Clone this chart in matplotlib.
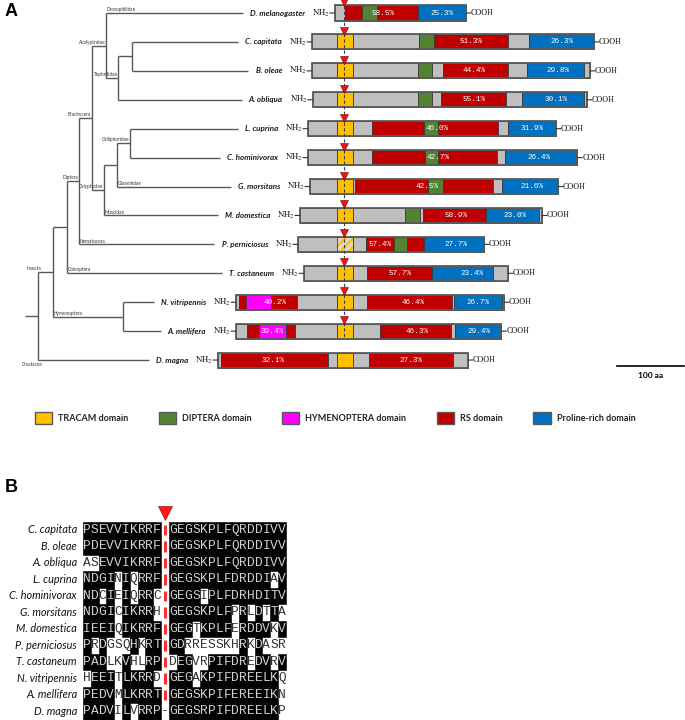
import matplotlib
matplotlib.use('Agg')
import matplotlib.pyplot as plt
from matplotlib.patches import Rectangle, Patch
import numpy as np

plt.rcParams['mathtext.fontset'] = 'stix'
plt.rcParams['hatch.linewidth'] = 1.6

# ------------------------------------------------------------------ data
species = ['D. melanogaster', 'C. capitata', 'B. oleae', 'A. obliqua', 'L. cuprina',
           'C. hominivorax', 'G. morsitans', 'M. domestica', 'P. perniciosus',
           'T. castaneum', 'N. vitripennis', 'A. mellifera', 'D. magna']

# domain boundaries in aa (0 = cleavage site)
segment_edges = [
    [-14, 2, 27, 50, 111, 183],
    [-48, -11, 13, 112, 135, 246, 277, 375],
    [-48, -11, 13, 111, 132, 149, 246, 275, 360, 369],
    [-47, -11, 13, 111, 132, 146, 243, 267, 360, 364],
    [-54, -11, 13, 42, 120, 141, 231, 246, 318],
    [-54, -11, 13, 42, 122, 141, 230, 242, 350],
    [-51, -11, 13, 17, 126, 149, 224, 237, 321],
    [-66, -11, 13, 92, 114, 119, 213, 293, 297],
    [-69, -11, 13, 33, 75, 95, 120, 210],
    [-60, -11, 13, 35, 132, 224, 246],
    [-162, -158, -147, -110, -71, -11, 13, 35, 162, 165, 237, 240],
    [-162, -146, -128, -87, -74, -11, 13, 54, 161, 167, 236],
    [-189, -185, -24, -11, 13, 38, 164, 186],
]
# O other, T TRACAM, H TRACAM (putative, hatched), G DIPTERA, M HYMENOPTERA, R RS, B proline-rich
segment_types = ['ORGRB', 'OTOGROB', 'OTOGOROBO', 'OTOGOROBO', 'OTORGROB', 'OTORGROB',
                 'OTORGROB', 'OTOGORBO', 'OHORGRB', 'OTORBO', 'ORMROTOROBO',
                 'ORMROTOROB', 'OROTORO']

pct_text = [['58.5%', '25.3%'], ['51.3%', '26.3%'], ['44.4%', '29.8%'], ['55.1%', '30.1%'],
            ['46.0%', '31.9%'], ['42.7%', '26.4%'], ['42.5%', '21.6%'], ['58.9%', '23.0%'],
            ['57.4%', '27.7%'], ['57.7%', '23.4%'], ['40.2%', '46.4%', '26.7%'],
            ['39.4%', '46.3%', '29.4%'], ['32.1%', '27.3%']]
pct_pos = [[58, 147], [190, 327], [195, 321], [195, 318], [140, 282], [141, 293],
           [125, 282], [168, 257], [54, 168], [84, 192], [-103, 104, 201],
           [-108, 110, 203], [-107, 101]]

has_site = [True] * 12 + [False]
scale_len = 100

# cladogram: (node depth, clade label, label anchor, children); leaves = species index
tree = (38, None, None, [
    (53, 'Insecta', 'mid', [
        (67, None, None, [
            (79, 'Diptera', 'end', [
                (92, 'Brachycera', 'end', [
                    (106, 'Acalyptratae', 'end', [
                        0,
                        (118, 'Tephritidae', 'end', [(132, None, None, [1, 2]), 3])]),
                    (104, 'Calyptratae', 'end', [
                        (117, None, None, [(130, 'Calliphoridae', 'end', [4, 5]), 6]),
                        7])]),
                8]),
            9]),
        (123, 'Hymenoptera', 'start', [10, 11])]),
    12])
root_stem = 25
leaf_clade = {0: 'Drosophilidae', 6: 'Glossinidae', 7: 'Muscidae', 8: 'Nematocera',
              9: 'Coleoptera', 12: 'Crustacea'}

legend_labels = ['TRACAM domain', 'DIPTERA domain', 'HYMENOPTERA domain', 'RS domain',
                 'Proline-rich domain']

# panel B alignment
seq_species = ['C. capitata', 'B. oleae', 'A. obliqua', 'L. cuprina', 'C. hominivorax',
               'G. morsitans', 'M. domestica', 'P. perniciosus', 'T. castaneum',
               'N. vitripennis', 'A. mellifera', 'D. magna']
seq_left = ['PSEVVIKRRF', 'PDEVVIKRRF', 'ASEVVIKRRF', 'NDGINIQRRF', 'NDCIEIQRRC',
            'NDGICIKRRH', 'IEEIQIKRRF', 'PRDGSQHKRT', 'PADLKVHLRP', 'HEEITLKRRD',
            'PEDVMLKRRT', 'PADVILVRRP']
seq_gap = ['|', '|', '|', '|', '|', '|', '|', '|', '|', '|', '|', '-']
seq_right = ['GEGSKPLFQRDDIVV', 'GEGSKPLFQRDDIVV', 'GEGSKPLFQRDDIVV', 'GEGSKPLFDRDDIAV',
             'GEGSIPLFDRHDITV', 'GEGSKPLFPRLDTTA', 'GEGTKPLFERDDVKV', 'GDRRESSKHRKDASR',
             'DEGVRPIFDREDVRV', 'GEGAKPIFDREELKQ', 'GEGSKPIFEREEIKN', 'GEGSRPIFDREELKP']
mask_left = ['1111111111', '1111111111', '0011111111', '1111010111', '1101010110',
             '1111011110', '1111011111', '1010001011', '1110010011', '0111011110',
             '1111011111', '1111010111']
mask_right = ['111111111111111', '111111111111111', '111111111111111', '111111111111101',
              '111101111111111', '111111110101010', '111011110111101', '110000000101000',
              '011001111101101', '111011111111110', '111111111111110', '111111111111110']

# ------------------------------------------------------------------ style
colors = {'O': '#BFBFBF', 'T': '#FFC000', 'G': '#548235', 'M': '#FF00FF',
          'R': '#C00000', 'B': '#0070C0', 'H': '#D9D9D9'}
W, H = 685, 720
fig = plt.figure(figsize=(W / 100, H / 100), dpi=100)

topA = 380
ylimA = (12.69, -0.45)
ax = fig.add_axes([0, 1 - topA / H, 1, topA / H])
ax.set_xlim(-516, 511.5)
ax.set_ylim(*ylimA)
ax.axis('off')
axt = fig.add_axes([0, 1 - topA / H, 1, topA / H], sharey=None)
axt.set_xlim(0, W)
axt.set_ylim(*ylimA)
axt.axis('off')
axt.patch.set_alpha(0)

bar_h = 0.52
name_font = dict(family='Lato', style='italic', weight='bold', fontsize=5.8, color='#1a1a1a')
names = []
for i, (edges, types) in enumerate(zip(segment_edges, segment_types)):
    for x0, x1, t in zip(edges[:-1], edges[1:], types):
        if t == 'H':
            ax.add_patch(Rectangle((x0, i - bar_h / 2), x1 - x0, bar_h, facecolor=colors['H'],
                                   edgecolor='#FFC000', hatch='////', lw=0, zorder=2))
            ax.add_patch(Rectangle((x0, i - bar_h / 2), x1 - x0, bar_h, facecolor='none',
                                   edgecolor='#3a3a3a', lw=0.6, zorder=2.1))
        else:
            ax.add_patch(Rectangle((x0, i - bar_h / 2), x1 - x0, bar_h, facecolor=colors[t],
                                   edgecolor='#3a3a3a', lw=0.6, zorder=2))
    ax.add_patch(Rectangle((edges[0], i - bar_h / 2), edges[-1] - edges[0], bar_h,
                           facecolor='none', edgecolor='#5a5a5a', lw=1.3, zorder=3))
    for txt, xp in zip(pct_text[i], pct_pos[i]):
        ax.text(xp, i, txt, color='white', ha='center', va='center', fontsize=5.5,
                family='Liberation Mono', zorder=4)
    # NH2 / COOH
    ax.annotate('', xy=(edges[0], i), xytext=(-5, 0), textcoords='offset pixels',
                arrowprops=dict(arrowstyle='-', lw=0.8, color='#333333', shrinkA=0, shrinkB=0))
    ax.annotate(r'$\mathrm{NH_2}$', xy=(edges[0], i), xytext=(-5, 0), textcoords='offset pixels',
                ha='right', va='center', fontsize=6.3, color='#111111')
    ax.annotate('', xy=(edges[-1], i), xytext=(5, 0), textcoords='offset pixels',
                arrowprops=dict(arrowstyle='-', lw=0.8, color='#333333', shrinkA=0, shrinkB=0))
    ax.annotate('COOH', xy=(edges[-1], i), xytext=(5, 0), textcoords='offset pixels',
                ha='left', va='center', fontsize=5.8, family='Liberation Serif', color='#111111')
    names.append(ax.annotate(species[i], xy=(edges[0], i), xytext=(-30, 0),
                             textcoords='offset pixels', ha='right', va='center', **name_font))

# cleavage site marker
site_rows = np.array([i for i, s in enumerate(has_site) if s])
ax.plot([0, 0], [ylimA[1], site_rows.max() + bar_h / 2], ls=(0, (3, 2)), color='#404040',
        lw=0.8, zorder=5)
ax.plot(np.zeros(len(site_rows)), site_rows - bar_h / 2 - 0.12, ls='none', marker='v',
        ms=5.5, color='#E8161B', mec='#7a0000', mew=0.4, zorder=6, clip_on=False)

# scale bar
ax.plot([410, 410 + scale_len], [12.2, 12.2], color='black', lw=1.2, clip_on=False)
ax.text(410 + scale_len / 2, 12.55, f'{scale_len} aa', ha='center', va='center',
        family='Lato', weight='bold', fontsize=6)

# ---- tree
fig.canvas.draw()
renderer = fig.canvas.get_renderer()
inv = axt.transData.inverted()
leaf_end = {}
for i, t in enumerate(names):
    bb = t.get_window_extent(renderer)
    leaf_end[i] = inv.transform((bb.x0 - 7, 0))[0]

tree_kw = dict(color='#595959', lw=1.0, solid_capstyle='butt')
clade_font = dict(family='Lato', fontsize=3.4, color='#333333')


def draw(node, parent_depth):
    if isinstance(node, (int, np.integer)):
        y = node
        axt.plot([parent_depth, leaf_end[node]], [y, y], **tree_kw)
        lab = leaf_clade.get(node)
        if lab == 'Crustacea':
            axt.annotate(lab, (parent_depth - 6, y), xytext=(0, -1.5), textcoords='offset pixels',
                         ha='center', va='top', **clade_font)
        elif lab:
            axt.annotate(lab, (parent_depth, y), xytext=(1, 0.8), textcoords='offset pixels',
                         ha='left', va='bottom', **clade_font)
        return y
    depth, label, anchor, children = node
    ys = [draw(c, depth) for c in children]
    y = (ys[0] + ys[-1]) / 2
    axt.plot([depth, depth], [ys[0], ys[-1]], **tree_kw)
    axt.plot([parent_depth, depth], [y, y], **tree_kw)
    if label:
        if anchor == 'end':
            xx, ha = depth - 0.5, 'right'
        elif anchor == 'start':
            xx, ha = parent_depth + 0.5, 'left'
        else:
            xx, ha = parent_depth - 4, 'center'
        axt.annotate(label, (xx, y), xytext=(0, 0.8), textcoords='offset pixels',
                     ha=ha, va='bottom', **clade_font)
    return y


draw(tree, root_stem)

fig.text(5 / W, 1 - 12 / H, 'A', fontsize=13, weight='bold', family='Liberation Sans',
         va='center', ha='left')

# legend
handles = [Patch(facecolor=colors[k], edgecolor='#5a5a5a', lw=1.0) for k in 'TGMRB']
fig.legend(handles, legend_labels, loc='center left', bbox_to_anchor=(35 / W, 1 - 418 / H),
           ncol=5, frameon=False, handlelength=1.9, handleheight=1.65, handletextpad=0.65,
           columnspacing=3.4, borderpad=0, borderaxespad=0,
           prop=dict(family='Lato', weight='bold', size=6.5), labelcolor='#222222')

# ------------------------------------------------------------------ panel B
hB = 240
axb = fig.add_axes([0, 0, 1, hB / H])
axb.set_xlim(-10.64, 77.18)
axb.set_ylim(11.52, -3.03)
axb.axis('off')
fig.text(5 / W, 1 - 487 / H, 'B', fontsize=13, weight='bold', family='Liberation Sans',
         va='center', ha='left')

nL = len(seq_left[0])
for r in range(len(seq_species)):
    axb.text(-0.77, r, seq_species[r], ha='right', va='center', family='Lato', style='italic',
             fontsize=7.8, color='#111111')
    chars = list(seq_left[r]) + [seq_gap[r]] + list(seq_right[r])
    mask = mask_left[r] + '0' + mask_right[r]
    for c, (ch, m) in enumerate(zip(chars, mask)):
        if c == nL:
            if ch == '|':
                axb.plot([c + 0.5, c + 0.5], [r - 0.32, r + 0.32], color='#FF3030', lw=2.2,
                         solid_capstyle='butt')
            else:
                axb.text(c + 0.5, r, ch, ha='center', va='center', fontsize=9.3,
                         family='Liberation Mono', color='#333333')
            continue
        black = m == '1'
        if black:
            axb.add_patch(Rectangle((c, r - 0.5), 1, 1, facecolor='black', edgecolor='black',
                                    lw=0.4))
        axb.text(c + 0.5, r, ch, ha='center', va='center', fontsize=9.3, family='Liberation Mono',
                 color='#d0d0d0' if black else '#333333')

axb.plot([nL + 0.5], [-1.05], ls='none', marker='v', ms=10, color='#FF1A1A', mec='#8a0000',
         mew=0.4, clip_on=False)

fig.savefig('out.png', dpi=100)
